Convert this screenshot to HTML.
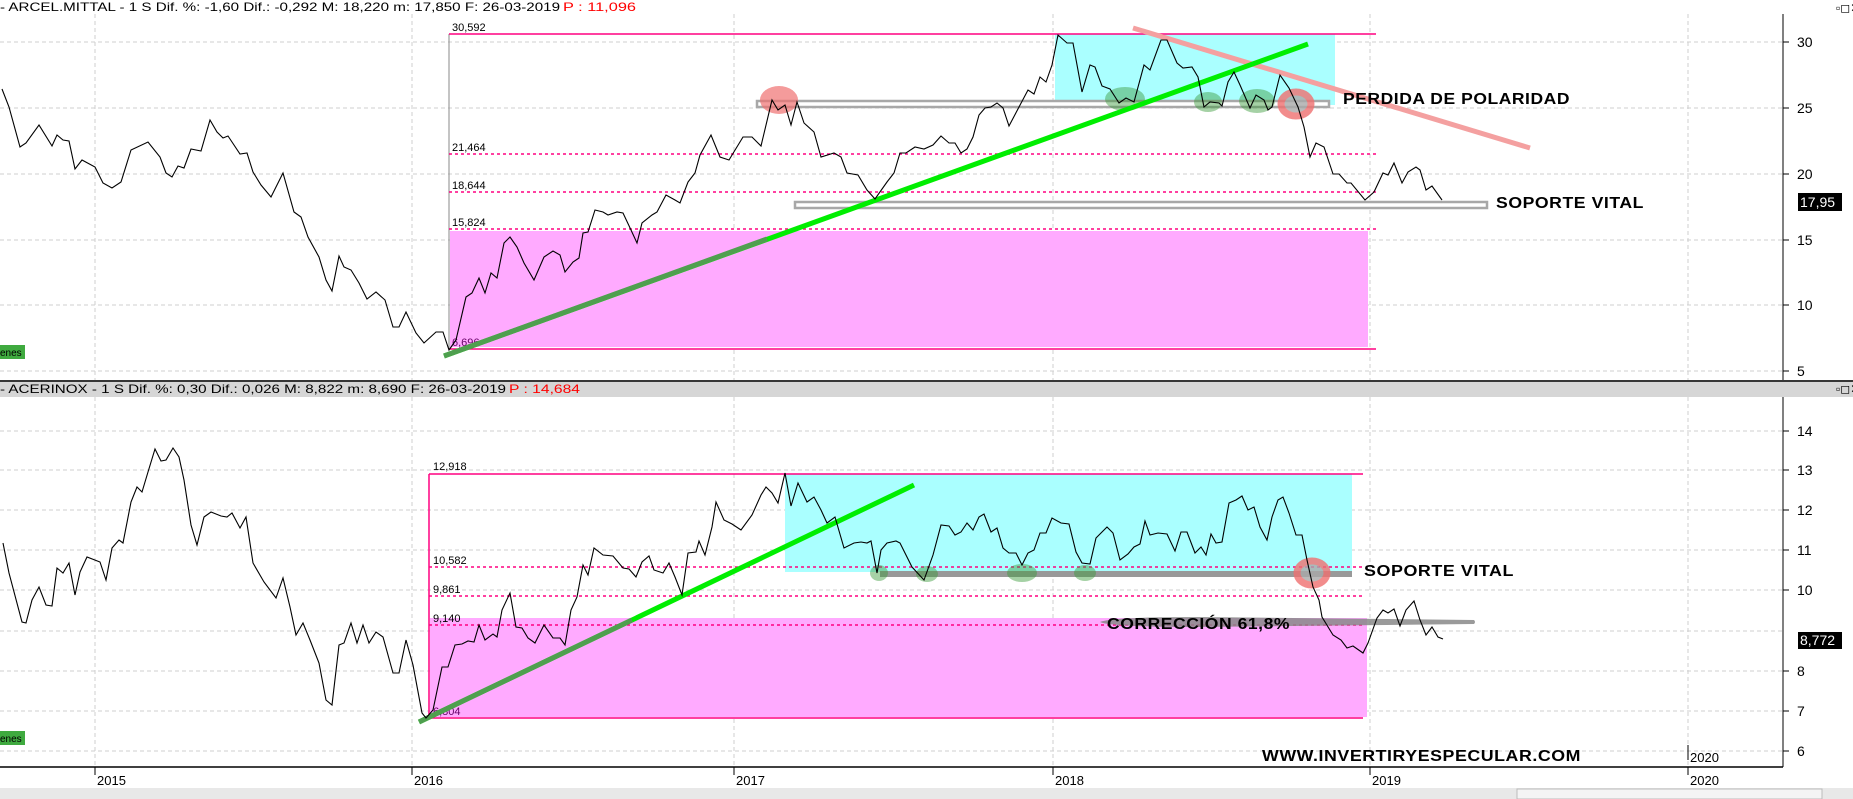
<!DOCTYPE html>
<html><head><meta charset="utf-8"><style>
html,body{margin:0;padding:0;background:#fff;}
svg{display:block;font-family:"Liberation Sans",sans-serif;}
</style></head><body>
<svg width="1853" height="799" viewBox="0 0 1853 799" xmlns="http://www.w3.org/2000/svg">
<rect x="0" y="0" width="1853" height="799" fill="#fff"/>
<text x="0" y="11" font-size="12" textLength="560" lengthAdjust="spacingAndGlyphs">- ARCEL.MITTAL -  1 S Dif. %: -1,60 Dif.: -0,292 M: 18,220 m: 17,850 F: 26-03-2019</text>
<text x="563" y="11" font-size="12" fill="#f00" textLength="73" lengthAdjust="spacingAndGlyphs">P : 11,096</text>
<rect x="0" y="380" width="1853" height="17" fill="#d6d6d6"/>
<line x1="0" y1="381" x2="1853" y2="381" stroke="#000" stroke-width="1.5"/>
<text x="0" y="393" font-size="12" textLength="506" lengthAdjust="spacingAndGlyphs">- ACERINOX -  1 S Dif. %: 0,30 Dif.: 0,026 M: 8,822 m: 8,690 F: 26-03-2019</text>
<text x="509" y="393" font-size="12" fill="#f00" textLength="71" lengthAdjust="spacingAndGlyphs">P : 14,684</text>
<g stroke="#cfcfcf" stroke-dasharray="4,3" stroke-width="1">
<line x1="0" y1="42" x2="1783" y2="42"/><line x1="0" y1="108" x2="1783" y2="108"/><line x1="0" y1="174" x2="1783" y2="174"/><line x1="0" y1="240" x2="1783" y2="240"/><line x1="0" y1="305" x2="1783" y2="305"/><line x1="0" y1="371" x2="1783" y2="371"/>
<line x1="0" y1="431" x2="1783" y2="431"/><line x1="0" y1="470" x2="1783" y2="470"/><line x1="0" y1="510" x2="1783" y2="510"/><line x1="0" y1="550" x2="1783" y2="550"/><line x1="0" y1="590" x2="1783" y2="590"/><line x1="0" y1="631" x2="1783" y2="631"/><line x1="0" y1="671" x2="1783" y2="671"/><line x1="0" y1="711" x2="1783" y2="711"/><line x1="0" y1="751" x2="1783" y2="751"/>
<line x1="95" y1="14" x2="95" y2="380"/><line x1="412" y1="14" x2="412" y2="380"/><line x1="734" y1="14" x2="734" y2="380"/><line x1="1053" y1="14" x2="1053" y2="380"/><line x1="1370" y1="14" x2="1370" y2="380"/><line x1="1688" y1="14" x2="1688" y2="380"/>
<line x1="95" y1="397" x2="95" y2="767"/><line x1="412" y1="397" x2="412" y2="767"/><line x1="734" y1="397" x2="734" y2="767"/><line x1="1053" y1="397" x2="1053" y2="767"/><line x1="1370" y1="397" x2="1370" y2="767"/><line x1="1688" y1="397" x2="1688" y2="767"/>
</g>
<rect x="450" y="231" width="918" height="116" fill="#ffaaff"/>
<rect x="1055" y="34" width="280" height="71" fill="#aaffff"/>
<line x1="449" y1="34" x2="449" y2="349" stroke="#888" stroke-width="1"/>
<g stroke="#ff0080" stroke-width="1.5">
<line x1="449" y1="34" x2="1376" y2="34"/><line x1="449" y1="349" x2="1376" y2="349"/>
<line x1="449" y1="154" x2="1376" y2="154" stroke-dasharray="3,3"/><line x1="449" y1="192" x2="1376" y2="192" stroke-dasharray="3,3"/><line x1="449" y1="229" x2="1376" y2="229" stroke-dasharray="3,3"/>
</g>
<g font-size="11"><text x="452" y="31">30,592</text><text x="452" y="151">21,464</text><text x="452" y="189">18,644</text><text x="452" y="226">15,824</text><text x="452" y="346" fill="#606">6,696</text></g>
<rect x="430" y="618" width="937" height="99" fill="#ffaaff"/>
<rect x="785" y="474" width="567" height="98" fill="#aaffff"/>
<g stroke="#ff0080" stroke-width="1.5">
<line x1="429" y1="474" x2="1363" y2="474"/><line x1="429" y1="718" x2="1363" y2="718"/><line x1="429" y1="474" x2="429" y2="718"/>
<line x1="429" y1="567" x2="1363" y2="567" stroke-dasharray="3,3"/><line x1="429" y1="596" x2="1363" y2="596" stroke-dasharray="3,3"/><line x1="429" y1="625" x2="1363" y2="625" stroke-dasharray="3,3"/>
</g>
<g font-size="11"><text x="433" y="470">12,918</text><text x="433" y="564">10,582</text><text x="433" y="593">9,861</text><text x="433" y="622">9,140</text><text x="433" y="715" fill="#606">6,804</text></g>
<rect x="757" y="101" width="572" height="6" fill="#fff" stroke="#a8a8a8" stroke-width="2.5"/>
<rect x="795" y="202" width="692" height="6" fill="#fff" stroke="#a8a8a8" stroke-width="2.5"/>
<rect x="880" y="571" width="472" height="6" fill="#999"/>
<path d="M1100,622 Q1110,617 1200,617 L1474,620 Q1476,622 1474,624 L1200,627 Q1110,627 1100,622Z" fill="#888" opacity="0.85"/>
<g fill="#3a9a3a" opacity="0.45">
<ellipse cx="1125" cy="99" rx="20" ry="12"/><ellipse cx="1208" cy="102" rx="14" ry="10"/><ellipse cx="1257" cy="101" rx="18" ry="12"/>
<ellipse cx="879" cy="573" rx="9" ry="8"/><ellipse cx="927" cy="574" rx="11" ry="8"/><ellipse cx="1022" cy="573" rx="15" ry="9"/><ellipse cx="1085" cy="573" rx="11" ry="8"/>
</g>
<ellipse cx="779" cy="100" rx="19" ry="14" fill="#f07070" opacity="0.7"/>
<ellipse cx="1296" cy="104" rx="15" ry="12" fill="#aaa" stroke="#f07070" stroke-width="7" opacity="0.8"/>
<ellipse cx="1312" cy="573" rx="15" ry="12" fill="#aaa" stroke="#f07070" stroke-width="7" opacity="0.8"/>
<line x1="1133" y1="28" x2="1530" y2="148" stroke="#f4a0a0" stroke-width="5"/>
<line x1="444" y1="356" x2="1308" y2="44" stroke="#00ee00" stroke-width="5"/>
<line x1="444" y1="356" x2="767" y2="239" stroke="#4f9f4f" stroke-width="5"/>
<line x1="419" y1="722" x2="914" y2="485" stroke="#00ee00" stroke-width="5"/>
<line x1="419" y1="722" x2="632" y2="620" stroke="#4f9f4f" stroke-width="5"/>
<polyline fill="none" stroke="#000" stroke-width="1.1" points="2,89 9,107 20,147 26,143 39,125 52,146 57,135 63,140 69,141 75,169 82,160 95,167 103,183 112,188 121,182 131,150 148,142 160,157 166,173 172,177 178,166 184,168 191,149 201,151 210,120 217,132 223,138 228,136 232,142 240,154 247,153 253,172 261,185 271,197 283,173 294,212 301,217 308,237 319,257 326,280 332,291 339,256 344,267 351,270 359,283 367,299 376,292 385,300 393,327 399,327 406,312 416,333 424,343 436,332 443,332 449,350 456,340 466,297 472,293 479,278 485,293 491,273 497,278 504,243 510,237 517,247 524,263 534,280 544,257 553,251 560,255 565,272 573,262 579,258 583,233 588,232 595,210 603,212 608,215 617,212 623,213 631,230 637,243 642,223 652,215 657,212 666,195 675,200 680,203 688,182 695,173 700,155 711,135 720,157 729,160 743,137 752,137 761,146 772,100 778,110 785,105 791,125 797,102 804,123 814,132 821,157 834,153 841,157 847,173 858,175 867,190 875,199 887,182 894,173 900,153 906,153 915,147 924,149 933,145 941,136 949,143 955,143 961,153 967,149 973,137 979,115 985,108 991,107 997,103 1003,108 1009,126 1019,107 1028,90 1034,94 1040,77 1046,82 1052,65 1058,35 1067,43 1073,43 1082,92 1090,65 1095,67 1102,86 1110,89 1119,103 1126,98 1134,102 1144,65 1150,70 1161,40 1167,40 1177,63 1183,68 1192,67 1198,77 1204,107 1210,102 1219,103 1222,106 1228,82 1234,72 1240,85 1250,108 1256,95 1264,100 1268,110 1272,107 1280,75 1289,88 1298,107 1304,127 1310,157 1316,143 1324,147 1333,174 1339,174 1347,183 1351,183 1365,200 1374,192 1383,173 1388,175 1394,163 1402,183 1408,172 1416,167 1420,170 1426,190 1432,186 1442,200"/>
<polyline fill="none" stroke="#000" stroke-width="1.1" points="3,543 9,573 22,622 26,623 32,600 39,587 46,605 52,606 57,568 63,573 69,563 75,595 80,572 87,557 100,562 106,580 112,548 119,540 123,543 131,502 137,487 142,492 148,472 155,449 161,461 166,460 173,448 179,457 184,480 191,525 197,545 204,517 211,512 221,516 227,517 232,513 240,528 246,517 253,563 264,582 276,598 283,578 290,607 296,635 303,623 310,640 319,663 326,700 332,705 339,645 344,643 351,623 357,643 363,625 369,643 376,632 383,637 393,673 399,673 406,640 413,665 422,713 426,718 433,710 442,667 448,667 455,645 462,644 468,641 474,642 479,625 485,640 493,634 497,637 502,610 510,593 516,627 522,628 528,638 535,643 544,625 553,638 560,638 565,645 571,610 577,597 583,565 588,575 594,548 603,555 613,556 623,568 629,569 636,577 642,562 649,556 654,570 663,573 669,563 675,577 682,595 688,553 696,552 699,541 705,555 712,527 716,502 724,520 732,524 741,530 752,515 761,495 766,487 772,493 778,503 785,473 791,506 798,483 807,502 814,497 821,510 827,523 835,517 844,548 854,543 861,542 867,543 871,541 877,573 881,550 887,543 896,541 900,543 912,567 924,580 933,555 941,525 949,526 955,535 961,532 967,523 973,530 979,517 984,514 991,532 997,528 1003,548 1009,553 1016,553 1022,565 1028,553 1034,550 1040,533 1046,533 1052,518 1061,523 1069,524 1076,552 1082,563 1090,564 1096,538 1107,527 1113,533 1120,560 1128,554 1134,547 1140,544 1145,521 1150,535 1158,533 1167,534 1175,551 1181,532 1187,532 1195,553 1201,547 1206,555 1211,534 1216,543 1222,542 1229,503 1236,500 1242,496 1248,510 1254,507 1260,527 1267,540 1272,517 1278,500 1283,497 1289,513 1296,535 1302,535 1307,560 1313,587 1319,600 1322,617 1333,635 1341,640 1347,648 1353,646 1363,653 1368,643 1377,618 1383,610 1388,613 1394,609 1400,626 1406,610 1414,601 1420,620 1426,635 1432,627 1438,637 1443,639"/>
<g font-weight="bold" font-size="16" letter-spacing="0.5">
<text x="1343" y="104" textLength="227" lengthAdjust="spacingAndGlyphs">PERDIDA DE POLARIDAD</text>
<text x="1496" y="208" textLength="148" lengthAdjust="spacingAndGlyphs">SOPORTE VITAL</text>
<text x="1364" y="576" textLength="150" lengthAdjust="spacingAndGlyphs">SOPORTE VITAL</text>
<text x="1107" y="629" textLength="183" lengthAdjust="spacingAndGlyphs">CORRECCIÓN 61,8%</text>
<text x="1262" y="761" textLength="319" lengthAdjust="spacingAndGlyphs">WWW.INVERTIRYESPECULAR.COM</text>
</g>
<rect x="0" y="345" width="25" height="14" fill="#3faa3f"/><text x="0" y="356" font-size="10">enes</text>
<rect x="0" y="731" width="25" height="14" fill="#3faa3f"/><text x="0" y="742" font-size="10">enes</text>
<rect x="1784" y="14" width="69" height="366" fill="#fff"/>
<rect x="1784" y="397" width="69" height="370" fill="#fff"/>
<line x1="1783" y1="14" x2="1783" y2="380" stroke="#000"/>
<line x1="1783" y1="397" x2="1783" y2="767" stroke="#000"/>
<g font-size="14" fill="#000">
<text x="1797" y="47">30</text><text x="1797" y="113">25</text><text x="1797" y="179">20</text><text x="1797" y="245">15</text><text x="1797" y="310">10</text><text x="1797" y="376">5</text>
<text x="1797" y="436">14</text><text x="1797" y="475">13</text><text x="1797" y="515">12</text><text x="1797" y="555">11</text><text x="1797" y="595">10</text><text x="1797" y="676">8</text><text x="1797" y="716">7</text><text x="1797" y="756">6</text>
</g>
<g stroke="#000"><line x1="1783" y1="42" x2="1789" y2="42"/><line x1="1783" y1="108" x2="1789" y2="108"/><line x1="1783" y1="174" x2="1789" y2="174"/><line x1="1783" y1="240" x2="1789" y2="240"/><line x1="1783" y1="305" x2="1789" y2="305"/><line x1="1783" y1="371" x2="1789" y2="371"/>
<line x1="1783" y1="431" x2="1789" y2="431"/><line x1="1783" y1="470" x2="1789" y2="470"/><line x1="1783" y1="510" x2="1789" y2="510"/><line x1="1783" y1="550" x2="1789" y2="550"/><line x1="1783" y1="590" x2="1789" y2="590"/><line x1="1783" y1="671" x2="1789" y2="671"/><line x1="1783" y1="711" x2="1789" y2="711"/><line x1="1783" y1="751" x2="1789" y2="751"/></g>
<rect x="1798" y="193" width="44" height="18" fill="#000"/><text x="1800" y="207" font-size="14" fill="#fff">17,95</text>
<rect x="1798" y="632" width="44" height="17" fill="#000"/><text x="1800" y="645" font-size="14" fill="#fff">8,772</text>
<text x="1836" y="12" font-size="12">▫◻✕</text>
<text x="1836" y="393" font-size="12">▫◻✕</text>
<line x1="0" y1="767" x2="1783" y2="767" stroke="#000" stroke-width="1.5"/>
<g stroke="#000"><line x1="95" y1="767" x2="95" y2="775"/><line x1="412" y1="767" x2="412" y2="775"/><line x1="734" y1="767" x2="734" y2="775"/><line x1="1053" y1="767" x2="1053" y2="775"/><line x1="1370" y1="767" x2="1370" y2="775"/><line x1="1688" y1="767" x2="1688" y2="775"/><line x1="1688" y1="745" x2="1688" y2="760"/></g>
<g font-size="13"><text x="97" y="785">2015</text><text x="414" y="785">2016</text><text x="736" y="785">2017</text><text x="1055" y="785">2018</text><text x="1372" y="785">2019</text><text x="1690" y="785">2020</text><text x="1690" y="762">2020</text></g>
<rect x="0" y="788" width="1853" height="11" fill="#e8e8e8"/>
<rect x="1517" y="789" width="305" height="10" fill="#f4f4f4" stroke="#bbb"/>
</svg>
</body></html>
